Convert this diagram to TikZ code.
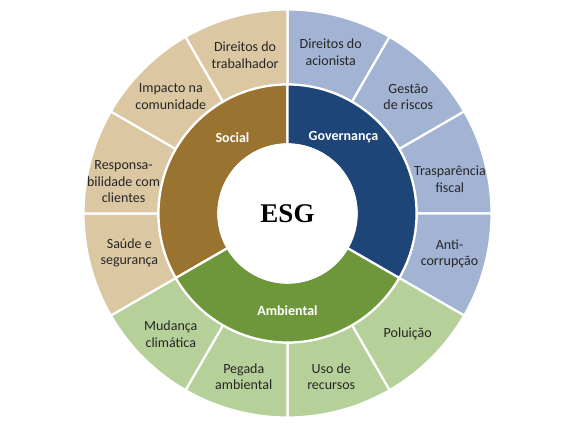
\documentclass[tikz,border=0pt]{standalone}
\usepackage{fontspec}
\setmainfont{Carlito}
\newfontfamily\esgfont{Liberation Serif}
\definecolor{socdark}{HTML}{9B7330}
\definecolor{soclight}{HTML}{DBC7A2}
\definecolor{govdark}{HTML}{1D4577}
\definecolor{govlight}{HTML}{A2B3D3}
\definecolor{ambdark}{HTML}{6E973B}
\definecolor{amblight}{HTML}{B6D09A}
\def\ringpart[#1](#2:#3:#4:#5){\filldraw[#1] (#2:#4pt) arc (#2:#3:#4pt) -- (#3:#5pt) arc (#3:#2:#5pt) -- cycle;}
\tikzset{seg/.style={draw=white, line width=2.2pt, line join=round},
	lab/.style={text=black!85, align=center, font=\fontsize{14}{16.8}\selectfont},
	head/.style={text=white, font=\fontsize{14}{16.8}\selectfont\bfseries}}

\begin{document}
\begin{tikzpicture}[x=1pt,y=1pt]
			%%%%% START %%%%%
			\useasboundingbox[fill=white] (-287.5,-219.5) rectangle (289.5,213.5);
			
			% outer ring
			\ringpart[seg, fill=govlight](90:60:204:129);
			\ringpart[seg, fill=govlight](60:30:204:129);
			\ringpart[seg, fill=govlight](30:0:204:129);
			\ringpart[seg, fill=govlight](0:-30:204:129);
			\ringpart[seg, fill=amblight](-30:-60:204:129);
			\ringpart[seg, fill=amblight](-60:-90:204:129);
			\ringpart[seg, fill=amblight](-90:-120:204:129);
			\ringpart[seg, fill=amblight](-120:-150:204:129);
			\ringpart[seg, fill=soclight](210:180:204:129);
			\ringpart[seg, fill=soclight](180:150:204:129);
			\ringpart[seg, fill=soclight](150:120:204:129);
			\ringpart[seg, fill=soclight](120:90:204:129);
			
			% inner ring
			\ringpart[seg, fill=socdark](90:210:129:69);
			\ringpart[seg, fill=govdark](-30:90:129:69);
			\ringpart[seg, fill=ambdark](210:330:129:69);
			\filldraw[seg, fill=white] (0,0) circle (69pt);
			
			\node[head] (social) at (-55,76) {Social};
			\node[head] (gov) at (56,76) {Governança};
			\node[head] (amb) at (0,-97) {Ambiental};
			\node (esg) at (0,0) {\esgfont\fontsize{27}{27}\selectfont\bfseries ESG};
			
			\node[lab] (acion) at (75:167) {Direitos do\\acionista};
			\node[lab] (riscos) at (44:168) {Gestão\\de riscos};
			\node[lab] (fiscal) at (12:166) {Trasparência\\fiscal};
			\node[lab] (corrup) at (-14:167) {Anti-\\corrupção};
			\node[lab] (polui) at (-45:170) {Poluição};
			\node[lab] (recur) at (-75:169) {Uso de\\recursos};
			\node[lab] (pegada) at (-105:169) {Pegada\\ambiental};
			\node[lab] (clima) at (-134:168) {Mudança\\climática};
			\node[lab] (saude) at (194:163) {Saúde e\\segurança};
			\node[lab] (client) at (169:167) {Responsa-\\bilidade com\\clientes};
			\node[lab] (comun) at (135:165) {Impacto na\\comunidade};
			\node[lab] (trab) at (105:164) {Direitos do\\trabalhador};
			
			%%%%% END %%%%%
		\end{tikzpicture}
\end{document}
